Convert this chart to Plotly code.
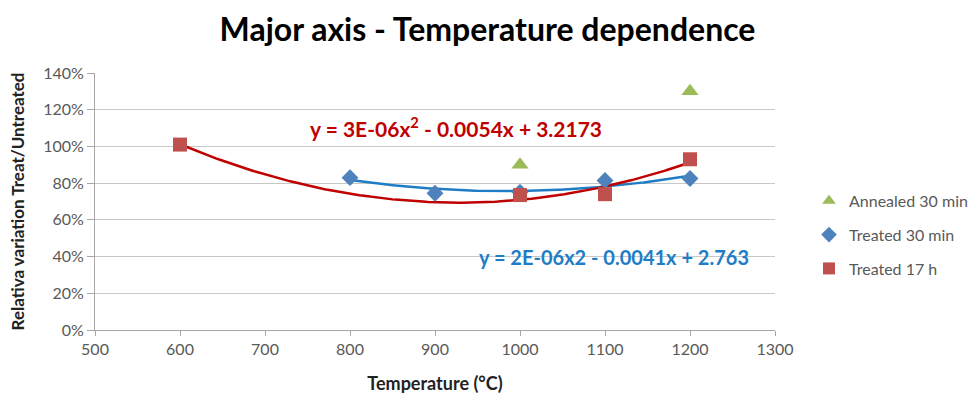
import numpy as np
import plotly.graph_objects as go

# Temperatures (°C) and relative variation (treated / untreated)
temp_annealed = [1000, 1200]
val_annealed = [0.90, 1.30]

temp_t30 = [800, 900, 1000, 1100, 1200]
val_t30 = [0.83, 0.745, 0.75, 0.815, 0.825]

temp_t17 = [600, 1000, 1100, 1200]
val_t17 = [1.01, 0.735, 0.74, 0.93]

eq_t17 = "y = 3E-06x<sup>2</sup> - 0.0054x + 3.2173"
eq_t30 = "y = 2E-06x2 - 0.0041x + 2.763"

FONT = "Lato"
GREEN, BLUE, RED = "#9BBB59", "#4F81BD", "#C0504D"
FIT_RED, FIT_BLUE = "#C00000", "#1F7DC6"
TICK_GREY = "#595959"


def quad_fit(xs, ys):
    coef = np.polyfit(xs, ys, 2)
    xf = np.linspace(min(xs), max(xs), 200)
    return xf, np.polyval(coef, xf)


fig = go.Figure()

# Second-order polynomial trend lines
xf, yf = quad_fit(temp_t30, val_t30)
fig.add_trace(go.Scatter(x=xf, y=yf, mode="lines", showlegend=False,
                         line=dict(color=FIT_BLUE, width=2.5), hoverinfo="skip"))
xf, yf = quad_fit(temp_t17, val_t17)
fig.add_trace(go.Scatter(x=xf, y=yf, mode="lines", showlegend=False,
                         line=dict(color=FIT_RED, width=2.5), hoverinfo="skip"))

fig.add_trace(go.Scatter(x=temp_annealed, y=val_annealed, mode="markers",
                         name="Annealed 30 min", legendgroup="a",
                         marker=dict(symbol="triangle-up", size=15, color=GREEN)))
fig.add_trace(go.Scatter(x=temp_t30, y=val_t30, mode="markers",
                         name="Treated 30 min", legendgroup="b",
                         marker=dict(symbol="diamond", size=13, color=BLUE)))
fig.add_trace(go.Scatter(x=temp_t17, y=val_t17, mode="markers",
                         name="Treated 17 h", legendgroup="c",
                         marker=dict(symbol="square", size=14, color=RED)))

fig.add_annotation(x=925, y=1.105, xref="x", yref="y", text="<b>" + eq_t17 + "</b>",
                   showarrow=False, font=dict(family=FONT, size=21, color=FIT_RED))
fig.add_annotation(x=1111, y=0.40, xref="x", yref="y", text="<b>" + eq_t30 + "</b>",
                   showarrow=False, font=dict(family=FONT, size=20, color=FIT_BLUE))

fig.update_layout(
    width=975, height=397,
    margin=dict(l=95, r=200, t=73, b=67, autoexpand=False),
    paper_bgcolor="white", plot_bgcolor="white",
    font=dict(family=FONT, color=TICK_GREY),
    title=dict(text="<b>Major axis - Temperature dependence</b>",
               x=0.5, xref="container", xanchor="center", y=0.924, yanchor="middle",
               font=dict(family=FONT, size=32, color="#000000")),
    legend=dict(x=1.05, y=0.37, xanchor="left", yanchor="middle",
                font=dict(family=FONT, size=16, color=TICK_GREY),
                itemsizing="constant", tracegroupgap=10),
    showlegend=True,
)
fig.update_xaxes(range=[500, 1300], dtick=100, showgrid=False,
                 showline=True, linecolor="#A6A6A6", linewidth=1,
                 ticks="outside", ticklen=5, tickcolor="#A6A6A6",
                 tickfont=dict(family=FONT, size=16, color=TICK_GREY),
                 title=dict(text="<b>Temperature (°C)</b>", standoff=20,
                            font=dict(family=FONT, size=18, color="#222222")))
fig.update_yaxes(range=[0, 1.4], dtick=0.2, tickformat=".0%",
                 showgrid=True, gridcolor="#C8C8C8", gridwidth=1,
                 showline=True, linecolor="#A6A6A6", linewidth=1,
                 ticks="outside", ticklen=7, tickcolor="#A6A6A6",
                 zeroline=False,
                 tickfont=dict(family=FONT, size=16, color=TICK_GREY),
                 title=dict(text="<b>Relativa variation Treat/Untreated</b>", standoff=14,
                            font=dict(family=FONT, size=17, color="#222222")))

fig.write_html("out.html")
